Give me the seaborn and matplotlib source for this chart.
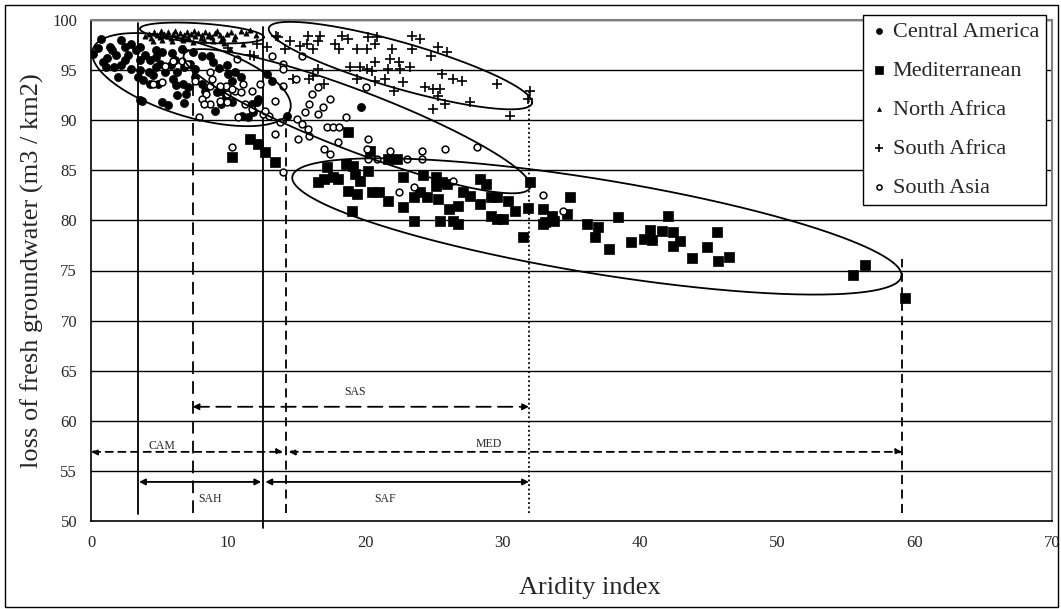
import numpy as np
import pandas as pd
import matplotlib
matplotlib.use("Agg")
import matplotlib.pyplot as plt
import seaborn as sns
from matplotlib.patches import Rectangle

# Central America (filled circles)
cam_x = [0.15, 0.7, 1.4, 1.5, 1.8, 2.2, 2.5, 2.9, 2.7, 3.3, 3.6, 1.1, 1.7, 2.2, 2.5, 3.6, 3.9, 4.3,
         4.7, 4.7, 5.0, 5.2, 2.9, 3.6, 4.2, 4.5, 4.7, 5.4, 5.8, 6.1, 6.3, 6.8, 7.2, 7.6, 2.0, 3.4,
         3.8, 4.3, 4.9, 6.0, 6.2, 6.7, 7.1, 6.3, 6.9, 3.6, 5.2, 5.6, 6.8, 0.9, 8.1, 8.7, 8.9, 7.6,
         8.3, 8.1, 9.2, 9.5, 10.0, 10.5, 10.9, 10.3, 9.8, 10.3, 9.5, 11.7, 12.1, 12.2, 11.8, 11.0,
         11.4, 9.0, 13.2, 3.7, 12.8, 14.3, 19.7, 5.9, 6.6, 7.4, 9.3, 9.9, 1.2, 0.5]
cam_y = [96.6, 98.1, 97.3, 97.0, 96.5, 98.0, 97.3, 97.6, 96.5, 97.0, 97.3, 95.3, 95.3, 95.5, 96.0,
         96.0, 96.5, 96.0, 97.0, 96.3, 95.6, 96.8, 95.1, 95.0, 94.8, 94.5, 95.3, 94.8, 95.5, 96.0,
         94.8, 95.3, 95.6, 95.1, 94.3, 94.3, 94.0, 93.6, 93.6, 94.1, 93.5, 93.6, 93.3, 92.5, 92.6,
         92.0, 91.8, 91.5, 91.7, 95.8, 96.4, 96.4, 95.8, 94.3, 92.9, 93.6, 92.8, 92.9, 94.6, 94.8,
         94.3, 93.9, 92.3, 91.8, 91.6, 91.6, 91.8, 92.1, 90.8, 90.4, 90.3, 90.9, 93.9, 91.9, 94.6,
         90.4, 91.3, 96.7, 97.1, 96.8, 95.2, 95.5, 96.2, 97.2]

# Mediterranean (squares)
med_x = [11.6, 12.2, 12.7, 13.4, 10.3, 18.7, 20.3, 21.6, 22.3, 17.2, 18.6, 19.1, 20.2, 16.5, 17.6,
         19.2, 19.6, 22.7, 24.2, 25.1, 25.9, 28.3, 28.8, 32.0, 17.0, 18.0, 18.7, 19.4, 19.0, 20.5,
         21.0, 21.6, 25.1, 25.6, 22.7, 23.5, 24.0, 24.5, 25.3, 23.5, 25.4, 26.1, 26.4, 26.7, 26.7,
         27.1, 27.6, 28.3, 29.1, 29.6, 29.1, 29.6, 30.0, 30.4, 30.9, 31.8, 31.5, 32.9, 32.9, 33.1,
         33.6, 33.7, 34.7, 34.9, 36.1, 36.7, 36.9, 37.7, 38.4, 39.3, 40.3, 40.7, 40.9, 41.6, 42.0,
         42.4, 42.4, 42.9, 43.8, 44.9, 45.6, 45.7, 46.5, 55.5, 56.4, 59.3]
med_y = [88.1, 87.6, 86.8, 85.8, 86.3, 88.8, 86.9, 86.1, 86.1, 85.3, 85.6, 85.4, 84.9, 83.8, 84.3,
         84.6, 83.9, 84.3, 84.5, 84.3, 83.6, 84.1, 83.6, 83.8, 84.1, 84.1, 82.9, 82.6, 80.9, 82.8,
         82.8, 81.9, 83.4, 83.8, 81.3, 82.3, 82.8, 82.3, 82.1, 79.9, 79.9, 81.1, 79.9, 79.6, 81.4,
         82.8, 82.4, 81.6, 82.3, 82.3, 80.4, 80.1, 80.1, 81.9, 80.9, 81.2, 78.3, 81.1, 79.6, 79.8,
         80.4, 79.9, 80.6, 82.3, 79.6, 78.3, 79.3, 77.1, 80.3, 77.8, 78.1, 79.0, 78.0, 78.9, 80.4,
         78.8, 77.4, 77.9, 76.2, 77.3, 78.8, 75.9, 76.3, 74.6, 75.5, 72.3]

# North Africa (small triangles)
naf_x = [3.9, 4.2, 4.4, 4.6, 4.8, 5.0, 5.1, 5.3, 5.5, 5.6, 5.8, 6.0, 6.1, 6.3, 6.5, 6.6, 6.8, 7.0,
         7.1, 7.3, 7.5, 7.6, 7.8, 8.0, 8.1, 8.3, 8.5, 8.6, 8.8, 9.0, 9.2, 9.4, 9.6, 9.9, 10.2, 10.5,
         10.9, 11.3, 11.6, 12.0, 4.5, 5.2, 5.9, 6.7, 7.4, 8.2, 8.9, 9.7, 10.4, 11.1, 9.5, 10.1]
naf_y = [98.4, 98.6, 98.2, 98.8, 98.5, 98.3, 98.9, 98.6, 98.4, 98.8, 98.2, 98.6, 98.9, 98.4, 98.7,
         98.2, 98.5, 98.8, 98.3, 98.6, 98.9, 98.4, 98.7, 98.2, 98.5, 98.8, 98.4, 98.6, 98.3, 98.7,
         98.9, 98.5, 98.2, 98.6, 98.8, 98.4, 98.9, 98.7, 99.0, 98.5, 97.9, 98.0, 97.9, 98.0, 97.8,
         98.0, 97.9, 97.7, 98.1, 97.6, 98.0, 97.1]

# South Africa (plus)
saf_x = [13.5, 14.5, 12.8, 14.1, 15.2, 15.8, 16.7, 16.2, 15.7, 16.5, 17.8, 18.3, 18.7, 18.1, 19.4,
         20.1, 20.2, 20.8, 20.7, 21.9, 23.4, 24.0, 23.4, 25.3, 25.9, 24.8, 21.8, 20.7, 22.4, 18.9,
         19.6, 20.1, 21.6, 22.5, 23.2, 20.5, 16.5, 16.2, 15.9, 14.7, 19.4, 20.7, 21.4, 22.7, 22.1,
         17.0, 25.6, 26.4, 27.0, 24.3, 24.9, 25.4, 25.3, 25.8, 24.9, 27.6, 29.6, 31.8, 32.0, 30.5,
         6.8, 10.0, 11.6, 12.1, 13.6, 11.9]
saf_y = [98.4, 97.9, 97.3, 97.1, 97.4, 98.4, 98.4, 97.1, 97.6, 97.9, 97.6, 98.4, 98.1, 97.1, 97.1,
         97.1, 98.3, 98.3, 97.6, 97.1, 98.4, 98.1, 97.1, 97.3, 96.8, 96.4, 96.1, 95.8, 95.8, 95.3,
         95.3, 95.1, 95.1, 95.1, 95.3, 94.9, 95.1, 94.4, 94.1, 94.1, 94.1, 93.9, 94.1, 93.8, 92.9,
         93.6, 94.6, 94.1, 93.9, 93.3, 93.1, 93.1, 92.4, 91.6, 91.1, 91.8, 93.6, 92.1, 92.9, 90.4,
         97.0, 97.2, 96.5, 97.6, 98.3, 96.4]

# South Asia (open circles)
sas_x = [13.2, 14.0, 14.0, 10.6, 15.4, 14.9, 14.0, 13.4, 12.3, 11.7, 11.1, 10.5, 9.8, 8.8, 8.7,
         9.4, 8.4, 9.9, 8.1, 8.7, 8.2, 9.4, 9.9, 11.2, 11.7, 12.5, 13.0, 10.7, 7.9, 13.8, 13.4,
         16.1, 15.9, 16.9, 17.4, 16.5, 15.6, 15.0, 15.4, 15.8, 15.9, 15.1, 17.2, 17.6, 18.1, 18.6,
         18.0, 20.2, 17.0, 17.4, 20.1, 20.8, 21.8, 23.0, 24.1, 24.1, 25.8, 28.1, 14.0, 10.3, 26.4,
         23.5, 22.4, 32.9, 20.0, 16.5, 4.5, 5.2, 5.4, 6.0, 6.6, 7.0, 7.6, 8.7, 10.3, 10.9, 12.7,
         20.2, 34.4]
sas_y = [96.4, 95.6, 95.1, 96.1, 96.4, 94.1, 93.4, 91.9, 93.6, 92.9, 93.6, 92.9, 93.4, 94.1, 93.4,
         93.4, 92.6, 92.6, 92.1, 91.6, 91.6, 91.9, 91.8, 91.6, 91.1, 90.6, 90.4, 90.3, 90.3, 89.8,
         88.6, 92.6, 91.6, 91.3, 92.1, 90.6, 90.8, 90.1, 89.6, 89.1, 88.4, 88.1, 89.3, 89.3, 89.3,
         90.3, 87.8, 88.1, 87.1, 86.6, 87.1, 86.1, 86.9, 86.1, 86.9, 86.1, 87.1, 87.3, 84.8, 87.3,
         83.9, 83.3, 82.8, 82.5, 93.3, 93.3, 93.6, 93.8, 95.4, 95.9, 95.9, 95.6, 93.9, 94.8, 93.1,
         92.8, 90.9, 86.1, 80.9]

regions = ["Central America", "Mediterranean", "North Africa", "South Africa", "South Asia"]
frames = []
for name, xs, ys in zip(regions, [cam_x, med_x, naf_x, saf_x, sas_x],
                        [cam_y, med_y, naf_y, saf_y, sas_y]):
    frames.append(pd.DataFrame({"aridity": xs, "loss": ys, "region": name}))
df = pd.concat(frames, ignore_index=True)

# zone ranges along the aridity axis
zone_labels = ["SAS", "CAM", "MED", "SAH", "SAF"]
zone_start = [7.4, 0.0, 14.4, 3.5, 12.7]
zone_end = [31.9, 14.0, 59.1, 12.4, 31.9]
zone_level = [61.4, 56.9, 56.9, 53.9, 53.9]

sns.set_style("white")
plt.rcParams["font.family"] = ["Liberation Serif", "DejaVu Serif"]

W, H = 1061, 609
fig = plt.figure(figsize=(W / 100, H / 100), dpi=100)
ax = fig.add_axes([91 / W, 88 / H, 961 / W, 501 / H])

styles = {
    "Central America": dict(marker="o", s=34, color="black", edgecolor="black", linewidth=0.5),
    "Mediterranean": dict(marker="s", s=52, color="black", edgecolor="black", linewidth=0.5),
    "North Africa": dict(marker="^", s=14, color="black", edgecolor="black", linewidth=0.5),
    "South Africa": dict(marker="+", s=48, color="black", linewidth=1.2),
    "South Asia": dict(marker="o", s=24, facecolor="white", edgecolor="black", linewidth=1.1),
}
for name in regions:
    sub = df[df["region"] == name]
    sns.scatterplot(data=sub, x="aridity", y="loss", ax=ax, label=name, zorder=3, **styles[name])

ax.set_xlim(0, 70)
ax.set_ylim(50, 100)
ax.set_xticks(range(0, 71, 10))
ax.set_yticks(range(50, 101, 5))
ax.tick_params(axis="both", direction="out", length=4, width=1, color="black",
               labelsize=12, pad=6)
for y in range(55, 101, 5):
    ax.axhline(y, color="black", lw=1.0, zorder=1)
for side in ["left", "bottom"]:
    ax.spines[side].set_color("black")
    ax.spines[side].set_linewidth(1.2)
for side in ["top", "right"]:
    ax.spines[side].set_color("#808080")
    ax.spines[side].set_linewidth(1.5)

ax.set_xlabel("Aridity index", fontsize=19)
ax.set_ylabel("loss of fresh groundwater (m3 / km2)", fontsize=19)
ax.xaxis.set_label_coords(0.519, -0.134)
ax.xaxis.label.set_va("center")
ax.yaxis.set_label_coords(-0.061, 0.5)
ax.yaxis.label.set_va("center")

# boundary lines of the zones
vlines = [(3.45, 50.7, 99.7, "-"), (7.4, 50.8, 96.5, (0, (7, 4))), (12.55, 49.3, 99.3, "-"),
          (14.2, 50.8, 90.5, (0, (5, 3))), (31.9, 50.8, 92.8, (0, (1, 1.5))),
          (59.1, 50.8, 76.1, (0, (5, 3)))]
for xv, y0, y1, ls in vlines:
    ax.plot([xv, xv], [y0, y1], color="black", lw=1.3, ls=ls, zorder=2, clip_on=False)

arrow_ls = {"SAS": (0, (8, 4)), "CAM": (0, (4, 3)), "MED": (0, (4, 3)), "SAH": "-", "SAF": "-"}
text_pos = {"SAS": (19.2, 62.9), "CAM": (5.2, 57.5), "MED": (29.0, 57.7),
            "SAH": (8.7, 52.2), "SAF": (21.4, 52.2)}
for lab, x0, x1, yl in zip(zone_labels, zone_start, zone_end, zone_level):
    ax.annotate("", xy=(x1, yl), xytext=(x0, yl),
                arrowprops=dict(arrowstyle="<|-|>", color="black", lw=1.3,
                                ls=arrow_ls[lab], mutation_scale=9, shrinkA=0, shrinkB=0),
                zorder=2)
    ax.text(*text_pos[lab], lab, fontsize=8.5, ha="center", va="center")

# cluster ellipses (centre, half axes in y units, screen angle)
ellipses = [(7.32, 94.05, 10.3, 3.7, -17), (8.08, 98.7, 6.2, 0.95, -4),
            (22.54, 95.45, 13.66, 2.3, -16), (19.37, 89.9, 18.5, 3.0, -21),
            (36.85, 79.4, 30.8, 4.7, -9.3)]
kx = (961 / 70) / (501 / 50)
t = np.linspace(0, 2 * np.pi, 400)
for cx, cy, a, b, ang in ellipses:
    th = np.deg2rad(ang)
    ex = a * np.cos(t) * np.cos(th) - b * np.sin(t) * np.sin(th)
    ey = a * np.cos(t) * np.sin(th) + b * np.sin(t) * np.cos(th)
    ax.plot(cx + ex / kx, cy + ey, color="black", lw=1.3, zorder=4)

leg = ax.legend(loc="upper right", bbox_to_anchor=(0.9935, 1.01), fontsize=16,
                frameon=True, fancybox=False, edgecolor="black", framealpha=1,
                markerscale=0.75, handletextpad=0.15, labelspacing=0.83,
                borderpad=0.3, handlelength=0.9, borderaxespad=0)
leg.get_frame().set_linewidth(1.0)

fig.patches.append(Rectangle((5 / W, 2 / H), 1053 / W, 602 / H, transform=fig.transFigure,
                             fill=False, edgecolor="black", lw=1.0))

fig.savefig("out.png", dpi=100)
